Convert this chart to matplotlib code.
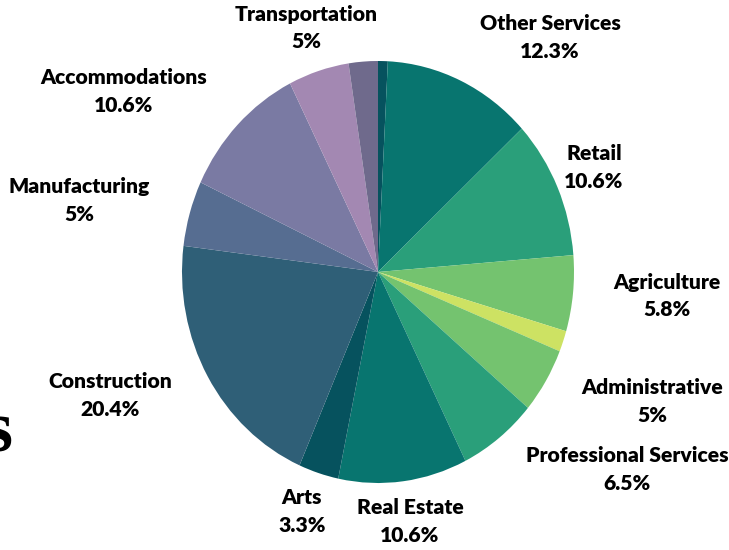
import matplotlib.pyplot as plt

# Share of businesses by sector, clockwise from 12 o'clock
sectors = ["", "Other Services", "Retail", "Agriculture", "", "Administrative",
           "Professional Services", "Real Estate", "Arts", "Construction",
           "Manufacturing", "Accommodations", "Transportation", ""]
shares = [0.8, 12.3, 10.6, 5.8, 1.6, 5, 6.5, 10.6, 3.3, 20.4, 5, 10.6, 5, 2.4]
colors = ["#06525e", "#08756f", "#2a9f7a", "#74c36f", "#cde263", "#74c36f",
          "#2a9f7a", "#08756f", "#06525e", "#2f5f77", "#566d91", "#7a7aa3",
          "#a388b2", "#6f6a8c"]

# label anchor (pixel x, y of first line centre) for each named sector
label_pos = {
    "Transportation": (306, 14),
    "Other Services": (550, 24),
    "Retail": (594, 153),
    "Agriculture": (667, 282),
    "Administrative": (652, 387),
    "Professional Services": (627, 456),
    "Real Estate": (410, 508),
    "Arts": (302, 497),
    "Construction": (110, 382),
    "Manufacturing": (79, 186),
    "Accommodations": (124, 78),
}

W, H = 729, 550
fig = plt.figure(figsize=(W / 100, H / 100), dpi=100)

# slightly taller than wide, like the original layout
cx, cy, rx, ry = 378, 272, 196, 211
ax = fig.add_axes([(cx - rx) / W, 1 - (cy + ry) / H, 2 * rx / W, 2 * ry / H])
ax.pie(shares, colors=colors, startangle=90, counterclock=False,
       wedgeprops=dict(linewidth=0))
ax.set_aspect("auto")
ax.set_xlim(-1, 1)
ax.set_ylim(-1, 1)
ax.axis("off")

font = dict(family=["Lato", "DejaVu Sans"], fontweight="heavy", fontsize=15.2,
            ha="center", va="center", color="black")
for name, val in zip(sectors, shares):
    if not name:
        continue
    x, y = label_pos[name]
    fig.text(x / W, 1 - y / H, name, **font)
    fig.text(x / W, 1 - (y + 28) / H, f"{val:g}%", **font)

# tail of a heading that runs off the left edge
fig.text(13 / W, 1 - 452 / H, "s", family="Liberation Serif", fontweight="bold",
         fontsize=52, ha="right", va="baseline")

fig.savefig("out.png", dpi=100)
